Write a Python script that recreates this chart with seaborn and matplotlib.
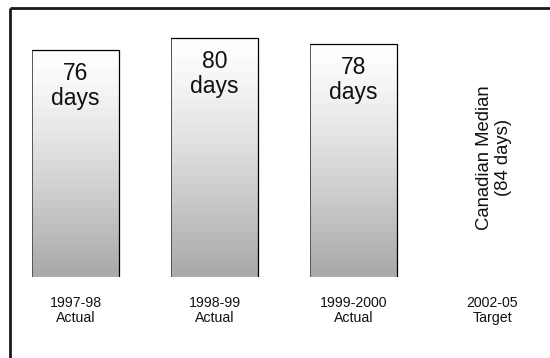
import numpy as np
import pandas as pd
import matplotlib
matplotlib.use("Agg")
import matplotlib.pyplot as plt
from matplotlib.lines import Line2D
from matplotlib.colors import LinearSegmentedColormap
import seaborn as sns

# Wait times (days) by fiscal period
periods = ["1997-98\nActual", "1998-99\nActual", "1999-2000\nActual", "2002-05\nTarget"]
actual_periods = ["1997-98\nActual", "1998-99\nActual", "1999-2000\nActual"]
actual_days = [76, 80, 78]
target_period = "2002-05\nTarget"
target_days = 84
target_text = "Canadian Median\n(84 days)"

sns.set_theme(style="white")
plt.rcParams["font.family"] = ["Liberation Sans", "DejaVu Sans"]

W, H = 550, 358
fig = plt.figure(figsize=(W / 100, H / 100), dpi=100)

# axes: baseline at y=277 px, ~2.99 px per day; categories 139 px apart
px_per_day = 2.99
base_px, top_px = 277, 20
ax = fig.add_axes([0, (H - base_px) / H, 1, (base_px - top_px) / H])

df = pd.DataFrame({"period": actual_periods, "days": actual_days})
sns.barplot(data=df, x="period", y="days", order=periods, ax=ax,
            color="white", width=87 / 139, edgecolor="none", linewidth=0,
            errorbar=None, saturation=1)

xlim = ((0 - 75.5) / 139, (W - 75.5) / 139)
ylim = (0, (base_px - top_px) / px_per_day)

# banded white-to-gray fill inside each bar, outlined on top and sides
cmap = LinearSegmentedColormap.from_list("shade", ["#fdfdfd", "#aaaaaa"], N=22)
grad = (np.linspace(0, 1, 256) ** 1.25).reshape(-1, 1)
for patch in list(ax.patches):
    x0, y0 = patch.get_x(), patch.get_y()
    w, h = patch.get_width(), patch.get_height()
    if not np.isfinite(h) or h == 0:
        continue
    im = ax.imshow(grad, cmap=cmap, aspect="auto", origin="upper",
                   extent=(x0, x0 + w, y0, y0 + h), zorder=2,
                   interpolation="nearest")
    im.set_clip_path(patch)
    patch.set_facecolor("none")
    ax.plot([x0, x0], [y0, y0 + h], color="#555555", lw=0.7, zorder=3,
            solid_capstyle="butt")
    ax.plot([x0, x0 + w, x0 + w], [y0 + h, y0 + h, y0], color="black", lw=0.9,
            zorder=3, solid_joinstyle="miter")

ax.set_xlim(*xlim)
ax.set_ylim(*ylim)

# value labels inside the bars
for i, v in enumerate(actual_days):
    ax.annotate(f"{v}\ndays", xy=(i, v), xytext=(0, -9), textcoords="offset points",
                ha="center", va="top", fontsize=16.5, linespacing=1.1,
                color="#111111", zorder=5)

# target annotation, vertical
ti = periods.index(target_period)
ax.text(ti + 0.01, target_days * 0.477, target_text, rotation=90, ha="center",
        va="center", fontsize=13.3, linespacing=1.2, color="#111111",
        multialignment="center")

ax.set_xlabel("")
ax.set_ylabel("")
ax.set_yticks([])
ax.tick_params(axis="x", length=0, pad=13.5, labelsize=10.2, labelcolor="#111111")
for lbl in ax.get_xticklabels():
    lbl.set_linespacing(1.15)
for s in ax.spines.values():
    s.set_visible(False)
ax.patch.set_alpha(0)

# frame lines along the top and left of the figure
fig.add_artist(Line2D([9.5 / W, 1], [1 - 8 / H, 1 - 8 / H], transform=fig.transFigure,
                      color="#1a1a1a", linewidth=2.0, solid_capstyle="butt"))
fig.add_artist(Line2D([9.5 / W, 9.5 / W], [0, 1 - 8 / H], transform=fig.transFigure,
                      color="#1a1a1a", linewidth=2.0, solid_capstyle="butt"))

fig.savefig("out.png", dpi=100)
